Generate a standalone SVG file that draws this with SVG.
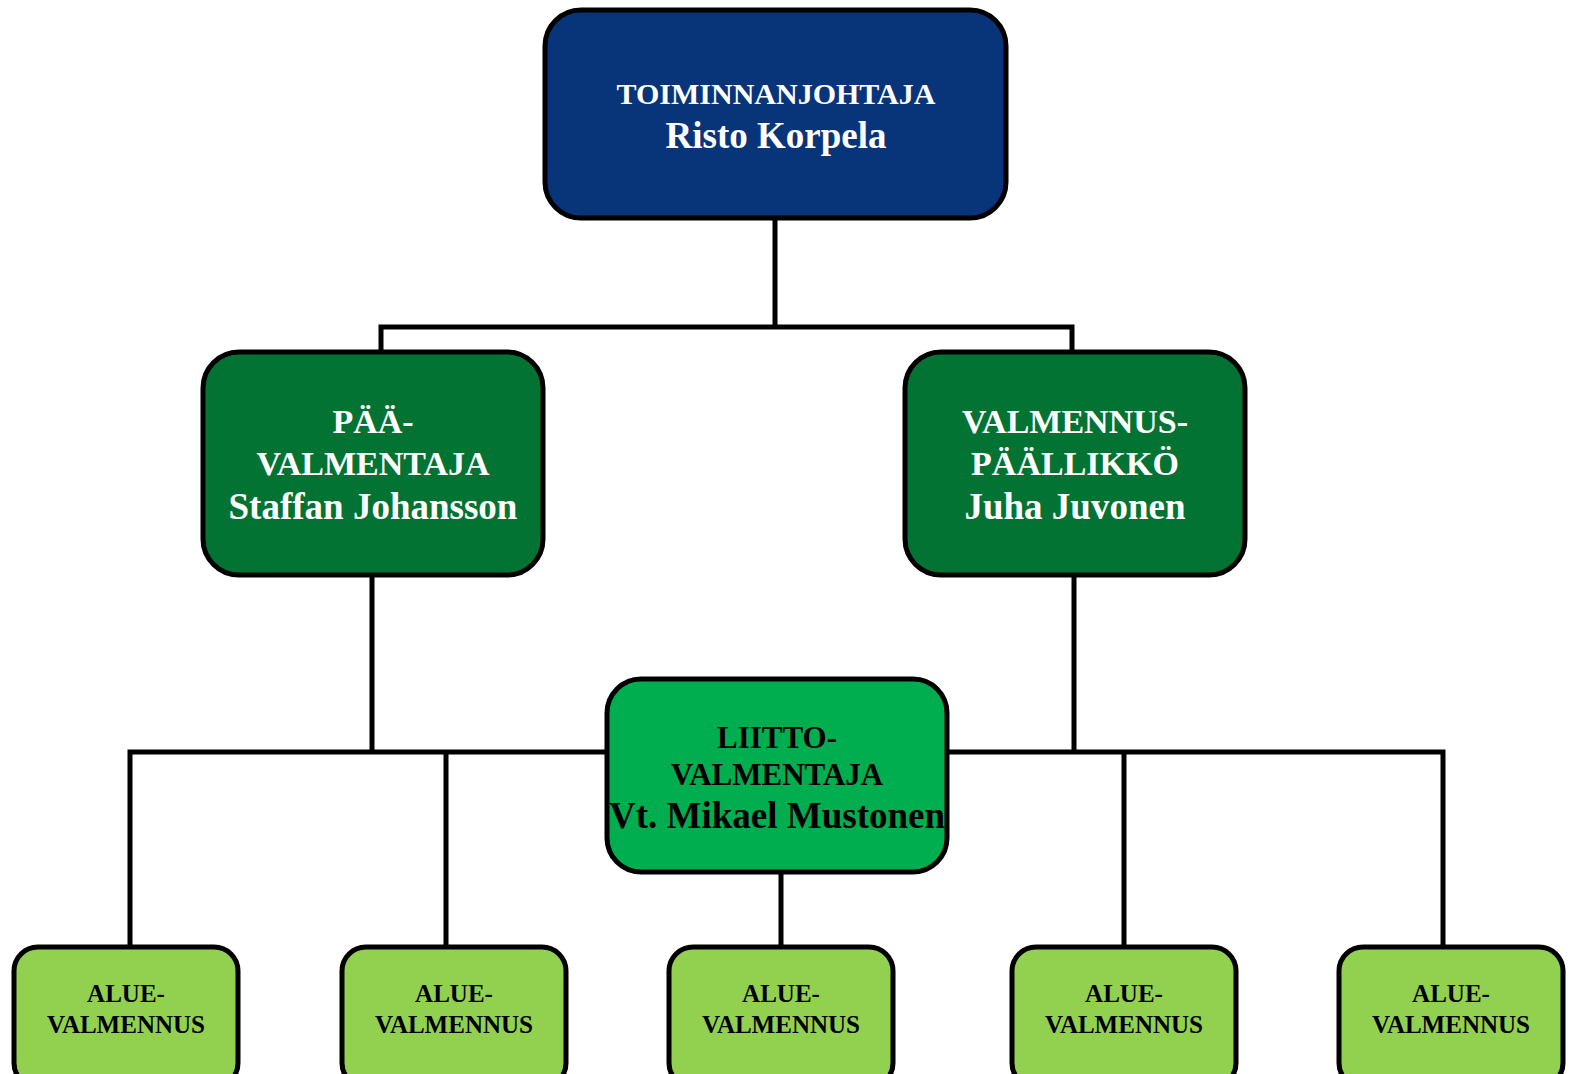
<svg xmlns="http://www.w3.org/2000/svg" width="1581" height="1074" viewBox="0 0 1581 1074">
<style>
.box{stroke:#000;stroke-width:5}
.ln{stroke:#000;stroke-width:5;fill:none;stroke-linecap:square}
text{font-family:"Liberation Serif","Times New Roman",serif;font-weight:bold;text-anchor:middle}
.w{fill:#fff}
.k{fill:#000}
.a{font-size:25px}
</style>
<rect width="1581" height="1074" fill="#fff"/>
<g id="connectors">
<path class="ln" d="M775 218V327M381 327H1072M381 327V352M1072 327V352"/>
<path class="ln" d="M372 575V752M130 752H607M130 752V947M446 752V947"/>
<path class="ln" d="M1074 575V750M947 752H1443M1124 752V947M1443 752V947"/>
<path class="ln" d="M781 872V947"/>
</g>
<g id="toiminnanjohtaja">
<rect class="box" x="545" y="10" width="461" height="208" rx="36" fill="#08347A"/>
<text class="w" x="776" y="104" font-size="30">TOIMINNANJOHTAJA</text>
<text class="w" x="776" y="148" font-size="37">Risto Korpela</text>
</g>
<g id="paavalmentaja">
<rect class="box" x="203" y="352" width="340" height="223" rx="36" fill="#037334"/>
<text class="w" x="373" y="433" font-size="34">PÄÄ-</text>
<text class="w" x="373" y="475" font-size="34">VALMENTAJA</text>
<text class="w" x="373" y="519" font-size="37">Staffan Johansson</text>
</g>
<g id="valmennuspaallikko">
<rect class="box" x="905" y="352" width="340" height="223" rx="36" fill="#037334"/>
<text class="w" x="1075" y="433" font-size="34">VALMENNUS-</text>
<text class="w" x="1075" y="475" font-size="34">PÄÄLLIKKÖ</text>
<text class="w" x="1075" y="519" font-size="37">Juha Juvonen</text>
</g>
<g id="liittovalmentaja">
<rect class="box" x="607" y="679" width="340" height="193" rx="34" fill="#00AE4F"/>
<text class="k" x="777" y="748" font-size="31">LIITTO-</text>
<text class="k" x="777" y="785" font-size="31">VALMENTAJA</text>
<text class="k" x="777" y="828" font-size="37">Vt. Mikael Mustonen</text>
</g>
<g id="alue1">
<rect class="box" x="14" y="947" width="224" height="140" rx="24" fill="#92D050"/>
<text class="k a" x="126" y="1002">ALUE-</text>
<text class="k a" x="126" y="1033">VALMENNUS</text>
</g>
<g id="alue2">
<rect class="box" x="342" y="947" width="224" height="140" rx="24" fill="#92D050"/>
<text class="k a" x="454" y="1002">ALUE-</text>
<text class="k a" x="454" y="1033">VALMENNUS</text>
</g>
<g id="alue3">
<rect class="box" x="669" y="947" width="224" height="140" rx="24" fill="#92D050"/>
<text class="k a" x="781" y="1002">ALUE-</text>
<text class="k a" x="781" y="1033">VALMENNUS</text>
</g>
<g id="alue4">
<rect class="box" x="1012" y="947" width="224" height="140" rx="24" fill="#92D050"/>
<text class="k a" x="1124" y="1002">ALUE-</text>
<text class="k a" x="1124" y="1033">VALMENNUS</text>
</g>
<g id="alue5">
<rect class="box" x="1339" y="947" width="224" height="140" rx="24" fill="#92D050"/>
<text class="k a" x="1451" y="1002">ALUE-</text>
<text class="k a" x="1451" y="1033">VALMENNUS</text>
</g>
</svg>
